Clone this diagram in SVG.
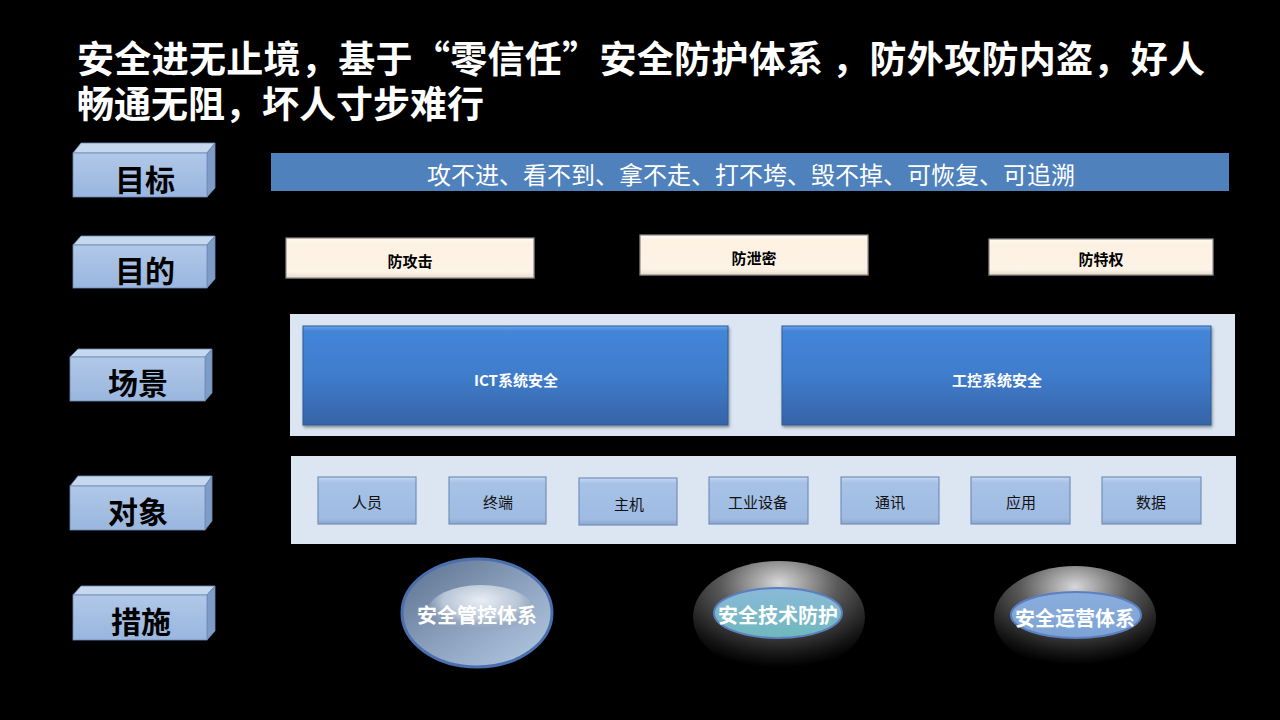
<svg xmlns="http://www.w3.org/2000/svg" width="1280" height="720" viewBox="0 0 1280 720">
<defs>
<style>
.t{font-family:"Noto Sans CJK SC","Liberation Sans",sans-serif}
.title{font-size:37px;font-weight:bold;fill:#fff}
.lbl{font-size:30px;font-weight:bold;fill:#000;text-anchor:middle}
.front{fill:url(#gFront);stroke:#6d8bb5;stroke-width:0.8}
.top{fill:#c6d8ee;stroke:#6d8bb5;stroke-width:0.8}
.side{fill:#7f9cc6;stroke:#6d8bb5;stroke-width:0.8}
.purp{fill:url(#gCream);stroke:#8a8a8a;stroke-width:1.2}
.ptxt{font-size:15px;font-weight:bold;fill:#000;text-anchor:middle}
.panel{fill:#dce6f2}
.scene{fill:url(#gScene);stroke:#2f5a93;stroke-width:1}
.stxt{font-size:15px;font-weight:bold;fill:#fff;text-anchor:middle}
.obj{fill:url(#gObj);stroke:#7390b8;stroke-width:1.2}
.otxt{font-size:15px;fill:#111;text-anchor:middle}
.mtxt{font-size:20px;font-weight:bold;fill:#fff;text-anchor:middle}
</style>
<linearGradient id="gFront" x1="0" y1="0" x2="0" y2="1"><stop offset="0" stop-color="#b0c8e8"/><stop offset="1" stop-color="#9ab6de"/></linearGradient>
<linearGradient id="gCream" x1="0" y1="0" x2="0" y2="1"><stop offset="0" stop-color="#fffaf2"/><stop offset="0.15" stop-color="#fdf1e2"/><stop offset="0.85" stop-color="#fdf3e6"/><stop offset="1" stop-color="#e8dccb"/></linearGradient>
<linearGradient id="gScene" x1="0" y1="0" x2="0" y2="1"><stop offset="0" stop-color="#6ea6ec"/><stop offset="0.05" stop-color="#4485d8"/><stop offset="0.5" stop-color="#3f7ccc"/><stop offset="1" stop-color="#3664a6"/></linearGradient>
<linearGradient id="gObj" x1="0" y1="0" x2="0" y2="1"><stop offset="0" stop-color="#c5d9f1"/><stop offset="0.12" stop-color="#a7c2e6"/><stop offset="0.88" stop-color="#9fbbe2"/><stop offset="1" stop-color="#8aa6cc"/></linearGradient>
<linearGradient id="gM1" x1="0" y1="0" x2="1" y2="1"><stop offset="0" stop-color="#5a6f8d"/><stop offset="0.5" stop-color="#8aa0bd"/><stop offset="1" stop-color="#b6cbe4"/></linearGradient>
<radialGradient id="gM1h" cx="0.5" cy="0.3" r="0.6"><stop offset="0" stop-color="#e8eef6"/><stop offset="0.6" stop-color="#b9c6d6"/><stop offset="1" stop-color="#8a9ab0" stop-opacity="0"/></radialGradient>
<radialGradient id="gDark" cx="0.5" cy="0.2" r="0.75"><stop offset="0" stop-color="#d8d8d8"/><stop offset="0.45" stop-color="#5a5a5a"/><stop offset="0.85" stop-color="#151515"/><stop offset="1" stop-color="#000"/></radialGradient>
<linearGradient id="gTeal" x1="0" y1="0" x2="0" y2="1"><stop offset="0" stop-color="#8ab9d8"/><stop offset="1" stop-color="#6fb9bd"/></linearGradient>
<linearGradient id="gBlueIn" x1="0" y1="0" x2="0" y2="1"><stop offset="0" stop-color="#8aaedc"/><stop offset="1" stop-color="#7ca3d4"/></linearGradient>
<filter id="sh" x="-5%" y="-10%" width="110%" height="130%"><feDropShadow dx="1" dy="2" stdDeviation="1.5" flood-color="#000" flood-opacity="0.4"/></filter>
</defs>
<rect width="1280" height="720" fill="#000"/>

<g id="title" class="t">
<text class="title" x="77" y="73" textLength="1128" lengthAdjust="spacing">安全进无止境，基于“零信任”安全防护体系 ，防外攻防内盗，好人</text>
<text class="title" x="77" y="118">畅通无阻，坏人寸步难行</text>
</g>

<g id="label-mubiao" class="t">
<polygon class="top" points="73,153 81,143 215,143 207,153"/>
<polygon class="side" points="207,153 215,143 215,188 207,197"/>
<rect class="front" x="73" y="153" width="134" height="44"/>
<text class="lbl" x="145" y="191">目标</text>
</g>
<g id="label-mudi" class="t">
<polygon class="top" points="73,245 81,236 215,236 207,245"/>
<polygon class="side" points="207,245 215,236 215,279 207,288"/>
<rect class="front" x="73" y="245" width="134" height="43"/>
<text class="lbl" x="145" y="282">目的</text>
</g>
<g id="label-changjing" class="t">
<polygon class="top" points="70,357 78,349 212,349 205,357"/>
<polygon class="side" points="205,357 212,349 212,393 205,401"/>
<rect class="front" x="70" y="357" width="135" height="44"/>
<text class="lbl" x="138" y="394">场景</text>
</g>
<g id="label-duixiang" class="t">
<polygon class="top" points="70,486 78,476 212,476 205,486"/>
<polygon class="side" points="205,486 212,476 212,521 205,530"/>
<rect class="front" x="70" y="486" width="135" height="44"/>
<text class="lbl" x="138" y="523">对象</text>
</g>
<g id="label-cuoshi" class="t">
<polygon class="top" points="73,595 81,586 215,586 207,595"/>
<polygon class="side" points="207,595 215,586 215,631 207,640"/>
<rect class="front" x="73" y="595" width="134" height="45"/>
<text class="lbl" x="141" y="633">措施</text>
</g>

<g id="goal" class="t">
<rect x="271" y="153" width="958" height="38" fill="#4f81bd"/>
<text x="751" y="184" font-size="24" fill="#fff" text-anchor="middle">攻不进、看不到、拿不走、打不垮、毁不掉、可恢复、可追溯</text>
</g>

<g id="purpose-1" class="t"><rect class="purp" x="286" y="238" width="248" height="40" filter="url(#sh)"/><text class="ptxt" x="410" y="267">防攻击</text></g>
<g id="purpose-2" class="t"><rect class="purp" x="640" y="235" width="228" height="40" filter="url(#sh)"/><text class="ptxt" x="754" y="264">防泄密</text></g>
<g id="purpose-3" class="t"><rect class="purp" x="989" y="239" width="224" height="36" filter="url(#sh)"/><text class="ptxt" x="1101" y="265">防特权</text></g>

<g id="scene-panel"><rect class="panel" x="290" y="314" width="945" height="122"/></g>
<g id="scene-ict" class="t"><rect class="scene" x="303" y="326" width="425" height="99" filter="url(#sh)"/><text class="stxt" x="516" y="386">ICT系统安全</text></g>
<g id="scene-ics" class="t"><rect class="scene" x="782" y="326" width="429" height="99" filter="url(#sh)"/><text class="stxt" x="997" y="386">工控系统安全</text></g>

<g id="object-panel"><rect class="panel" x="291" y="456" width="945" height="88"/></g>
<g id="obj-1" class="t"><rect class="obj" x="318" y="477" width="98" height="47"/><text class="otxt" x="367" y="508">人员</text></g>
<g id="obj-2" class="t"><rect class="obj" x="449" y="477" width="97" height="47"/><text class="otxt" x="498" y="508">终端</text></g>
<g id="obj-3" class="t"><rect class="obj" x="579" y="478" width="98" height="47"/><text class="otxt" x="629" y="510">主机</text></g>
<g id="obj-4" class="t"><rect class="obj" x="709" y="477" width="99" height="47"/><text class="otxt" x="758" y="508">工业设备</text></g>
<g id="obj-5" class="t"><rect class="obj" x="841" y="477" width="98" height="47"/><text class="otxt" x="890" y="508">通讯</text></g>
<g id="obj-6" class="t"><rect class="obj" x="971" y="477" width="99" height="47"/><text class="otxt" x="1021" y="508">应用</text></g>
<g id="obj-7" class="t"><rect class="obj" x="1102" y="477" width="99" height="47"/><text class="otxt" x="1151" y="508">数据</text></g>

<g id="measure-1" class="t">
<ellipse cx="477" cy="613" rx="75" ry="54" fill="url(#gM1)" stroke="#4a6fae" stroke-width="3"/>
<ellipse cx="481" cy="611" rx="53" ry="26" fill="url(#gM1h)"/>
<text class="mtxt" x="477" y="623">安全管控体系</text>
</g>
<g id="measure-2" class="t">
<ellipse cx="779" cy="617" rx="86" ry="56" fill="url(#gDark)"/>
<ellipse cx="778" cy="613" rx="64" ry="25" fill="url(#gTeal)" stroke="#5b7fc0" stroke-width="2"/>
<text class="mtxt" x="778" y="623">安全技术防护</text>
</g>
<g id="measure-3" class="t">
<ellipse cx="1075" cy="618" rx="81" ry="52" fill="url(#gDark)"/>
<ellipse cx="1076" cy="615" rx="65" ry="23" fill="url(#gBlueIn)" stroke="#5b7fc0" stroke-width="2"/>
<text class="mtxt" x="1075" y="626">安全运营体系</text>
</g>
</svg>
